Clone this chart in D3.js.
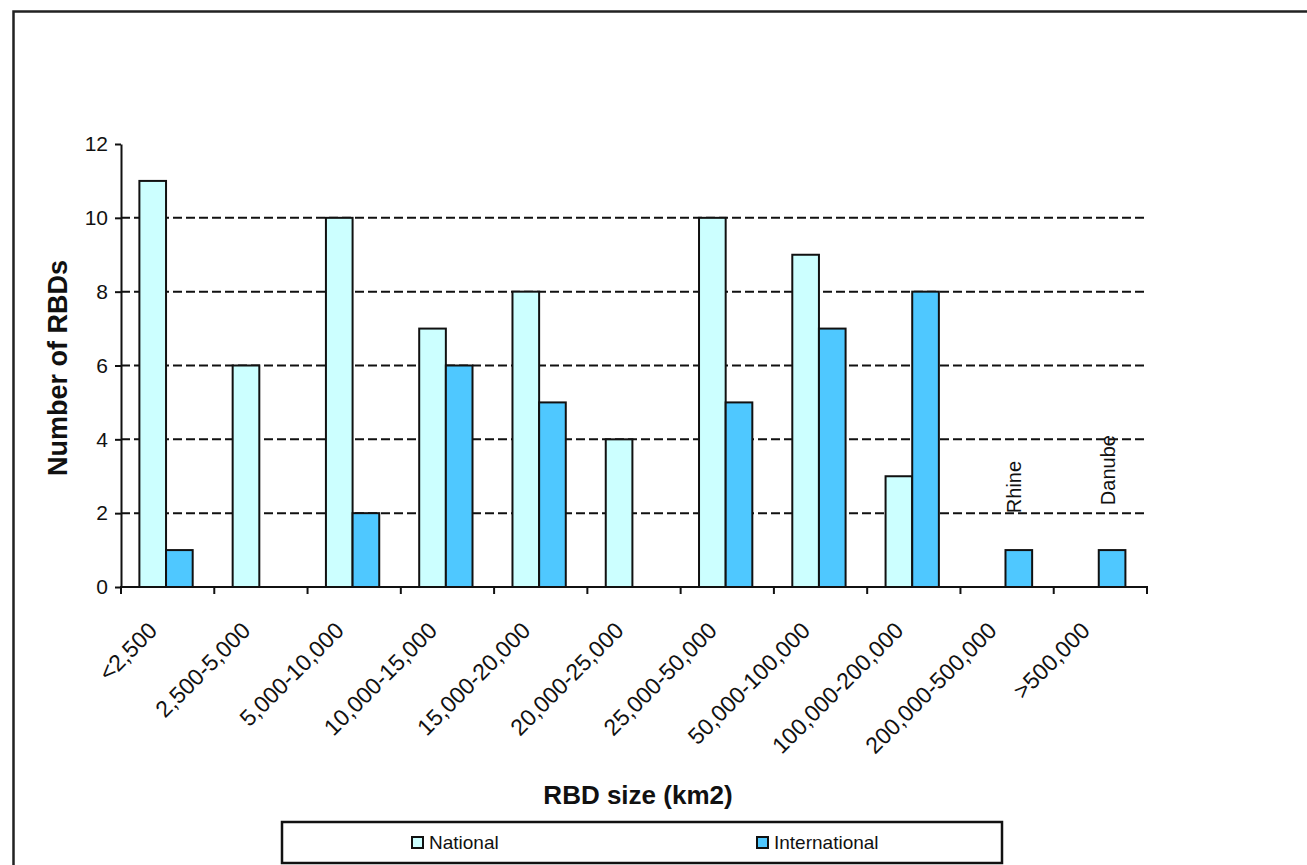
<!DOCTYPE html>
<html>
<head>
<meta charset="utf-8">
<script src="https://cdn.jsdelivr.net/npm/d3@7"></script>
<style>
  html, body { margin: 0; padding: 0; background: #fff; }
  svg { display: block; }
  text { font-family: "Liberation Sans", Arial, sans-serif; fill: #111; }
</style>
</head>
<body>
<svg id="chart" width="1307" height="865"></svg>
<script>
const categories = ["<2,500","2,500-5,000","5,000-10,000","10,000-15,000","15,000-20,000","20,000-25,000","25,000-50,000","50,000-100,000","100,000-200,000","200,000-500,000",">500,000"];
const seriesNames = ["National","International"];
const nationalValues = [11,6,10,7,8,4,10,9,3,0,0];
const internationalValues = [1,0,2,6,5,0,5,7,8,1,1];
const yTickValues = [0,2,4,6,8,10,12];
const gridValues = [2,4,6,8,10];
const annotationCats = ["200,000-500,000", ">500,000"];
const annotationTexts = ["Rhine", "Danube"];
const xTitle = "RBD size (km2)";
const yTitle = "Number of RBDs";

const colors = { National: "#ccffff", International: "#4fc8ff" };

const svg = d3.select("#chart");
svg.append("rect").attr("width",1307).attr("height",865).attr("fill","#fff");
// outer frame
svg.append("rect").attr("x",13.5).attr("y",11.5).attr("width",1400).attr("height",1000)
  .attr("fill","none").attr("stroke","#222").attr("stroke-width",2.5);

const x = d3.scaleBand().domain(categories).range([121,1147]).padding(0);
const xs = d3.scaleBand().domain(seriesNames).range([0, x.bandwidth()])
  .paddingInner(0).paddingOuter(0.75).align(0.46);
const y = d3.scaleLinear().domain([0,12]).range([587,144]);

// gridlines
svg.append("g").selectAll("line").data(gridValues).join("line")
  .attr("x1",121).attr("x2",1147)
  .attr("y1",d=>y(d)).attr("y2",d=>y(d))
  .attr("stroke","#111").attr("stroke-width",2).attr("stroke-dasharray","9,4");

// bars
const rows = categories.map((c,i)=>({cat:c, National:nationalValues[i], International:internationalValues[i]}));
const barData = [];
rows.forEach(r=>seriesNames.forEach(s=>{ if (r[s]>0) barData.push({cat:r.cat, s, v:r[s]}); }));
svg.append("g").selectAll("rect").data(barData).join("rect")
  .attr("x",d=>x(d.cat)+xs(d.s))
  .attr("y",d=>y(d.v))
  .attr("width",xs.bandwidth())
  .attr("height",d=>y(0)-y(d.v))
  .attr("fill",d=>colors[d.s])
  .attr("stroke","#111").attr("stroke-width",2);

// y axis
const yAxis = svg.append("g").attr("transform","translate(121,0)")
  .call(d3.axisLeft(y).tickValues(yTickValues).tickSize(6).tickSizeOuter(0).tickPadding(7).tickFormat(d3.format("d")));
yAxis.select(".domain").attr("stroke","#111").attr("stroke-width",2);
yAxis.selectAll(".tick line").attr("stroke","#111").attr("stroke-width",2);
yAxis.selectAll(".tick text").attr("font-size",21).attr("font-family","Liberation Sans, Arial, sans-serif").attr("fill","#111");

// x axis
const xAxisG = svg.append("g");
xAxisG.append("line").attr("x1",120).attr("x2",1148).attr("y1",587).attr("y2",587)
  .attr("stroke","#111").attr("stroke-width",2);
const boundaries = categories.map(c=>x(c)).concat([x.range()[1]]);
xAxisG.selectAll("line.tk").data(boundaries).join("line").attr("class","tk")
  .attr("x1",d=>d).attr("x2",d=>d).attr("y1",587).attr("y2",594)
  .attr("stroke","#111").attr("stroke-width",2);
xAxisG.selectAll("text").data(categories).join("text")
  .attr("transform",d=>`translate(${x(d)+x.bandwidth()/2-9},632) rotate(-45)`)
  .attr("text-anchor","end")
  .attr("font-size",23)
  .text(d=>d);

// annotations
annotationCats.forEach((c,i)=>{
  const bx = x(c) + xs("International");
  const off = i===0 ? 0 : -8;
  svg.append("text")
    .attr("transform",`translate(${bx+16},${y(2)+off}) rotate(-90)`)
    .attr("text-anchor","start").attr("font-size",20)
    .text(annotationTexts[i]);
});

// titles
svg.append("text").attr("x",(121+1147)/2+4).attr("y",804).attr("text-anchor","middle")
  .attr("font-size",26).attr("font-weight","bold").text(xTitle);
svg.append("text").attr("transform","translate(67,368) rotate(-90)").attr("text-anchor","middle")
  .attr("font-size",27).attr("font-weight","bold").text(yTitle);

// legend
const lg = svg.append("g");
lg.append("rect").attr("x",282).attr("y",822).attr("width",720).attr("height",41)
  .attr("fill","#fff").attr("stroke","#111").attr("stroke-width",2.5);
const legX = [412, 757];
seriesNames.forEach((s,i)=>{
  lg.append("rect").attr("x",legX[i]).attr("y",837).attr("width",11).attr("height",11)
    .attr("fill",colors[s]).attr("stroke","#111").attr("stroke-width",2);
  lg.append("text").attr("x",legX[i]+17).attr("y",849).attr("font-size",19).text(s);
});
</script>
</body>
</html>
